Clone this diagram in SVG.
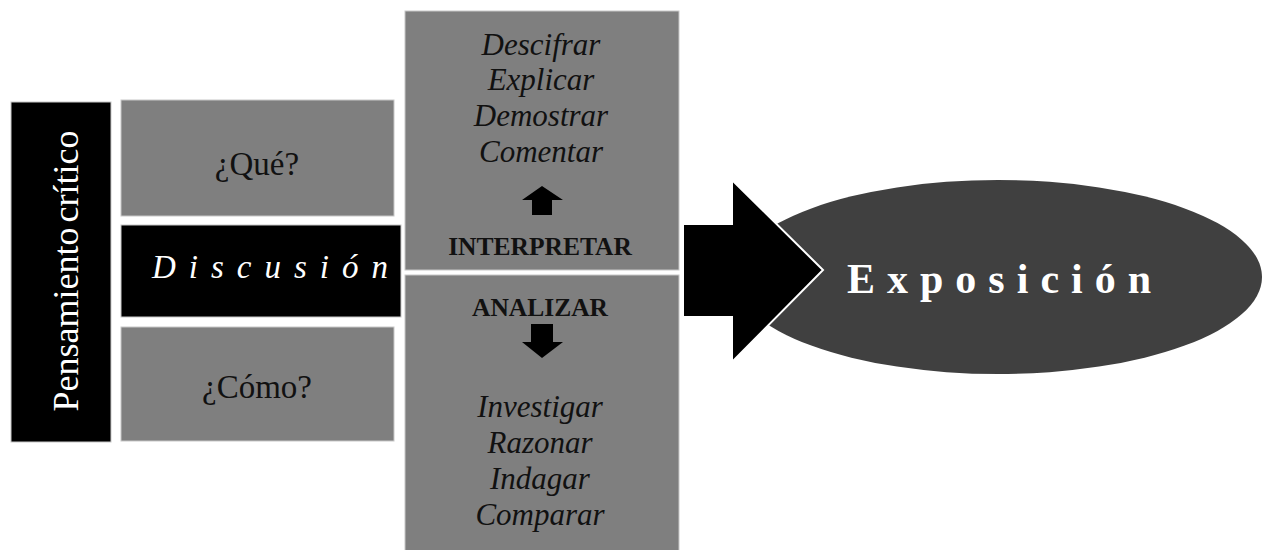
<svg xmlns="http://www.w3.org/2000/svg" width="1262" height="550" viewBox="0 0 1262 550">
  <style>
    .gray { fill: #7f7f7f; stroke: #c8c8c8; stroke-width: 1; }
    .black { fill: #000000; stroke: #c8c8c8; stroke-width: 1; }
    .serif { font-family: "Liberation Serif", "Times New Roman", serif; }
    .q { font-size: 33px; fill: #111111; text-anchor: middle; }
    .it { font-size: 31px; font-style: italic; fill: #111111; text-anchor: middle; }
    .bold { font-size: 25.5px; font-weight: bold; fill: #111111; text-anchor: middle; }
  </style>
  <rect width="1262" height="550" fill="#ffffff"/>

  <g id="node-pensamiento">
    <rect class="black" x="11" y="102" width="100" height="340"/>
    <text class="serif" x="78" y="271" transform="rotate(-90 78 271)" font-size="36" fill="#ffffff" text-anchor="middle" word-spacing="-4">Pensamiento crítico</text>
  </g>

  <g id="node-que">
    <rect class="gray" x="121" y="100" width="273" height="116"/>
    <text class="serif q" x="257" y="175">¿Qué?</text>
  </g>

  <g id="node-discusion">
    <rect class="black" x="121" y="225" width="280" height="92"/>
    <text class="serif" x="152" y="278" font-size="33" font-style="italic" fill="#ffffff" letter-spacing="13">Discusión</text>
  </g>

  <g id="node-como">
    <rect class="gray" x="121" y="327" width="273" height="114"/>
    <text class="serif q" x="257" y="398">¿Cómo?</text>
  </g>

  <g id="node-interpretar">
    <rect class="gray" x="405" y="11" width="274" height="259"/>
    <text class="serif it" x="541" y="55">Descifrar</text>
    <text class="serif it" x="541" y="90">Explicar</text>
    <text class="serif it" x="541" y="126">Demostrar</text>
    <text class="serif it" x="541" y="162">Comentar</text>
    <text class="serif bold" x="540" y="255">INTERPRETAR</text>
  </g>

  <g id="node-analizar">
    <rect class="gray" x="405" y="275" width="274" height="276"/>
    <text class="serif bold" x="540" y="316">ANALIZAR</text>
    <text class="serif it" x="540" y="417">Investigar</text>
    <text class="serif it" x="540" y="453">Razonar</text>
    <text class="serif it" x="540" y="489">Indagar</text>
    <text class="serif it" x="540" y="525">Comparar</text>
  </g>

  <g id="node-exposicion">
    <ellipse cx="998" cy="277" rx="264" ry="97" fill="#404040"/>
    <text class="serif" x="847" y="293" font-size="42" font-weight="bold" fill="#ffffff" letter-spacing="12">Exposición</text>
  </g>

  <g id="connectors">
    <polygon points="542,186 563,200 552,200 552,215 532,215 532,200 522,200" fill="#000000"/>
    <polygon points="531,324 553,324 553,342 563,342 542,358 522,342 531,342" fill="#000000"/>
    <polygon points="683,224 732,224 732,180 823,270 732,362 732,317 683,317" fill="#000000" stroke="#ffffff" stroke-width="2" stroke-linejoin="miter"/>
  </g>
</svg>
